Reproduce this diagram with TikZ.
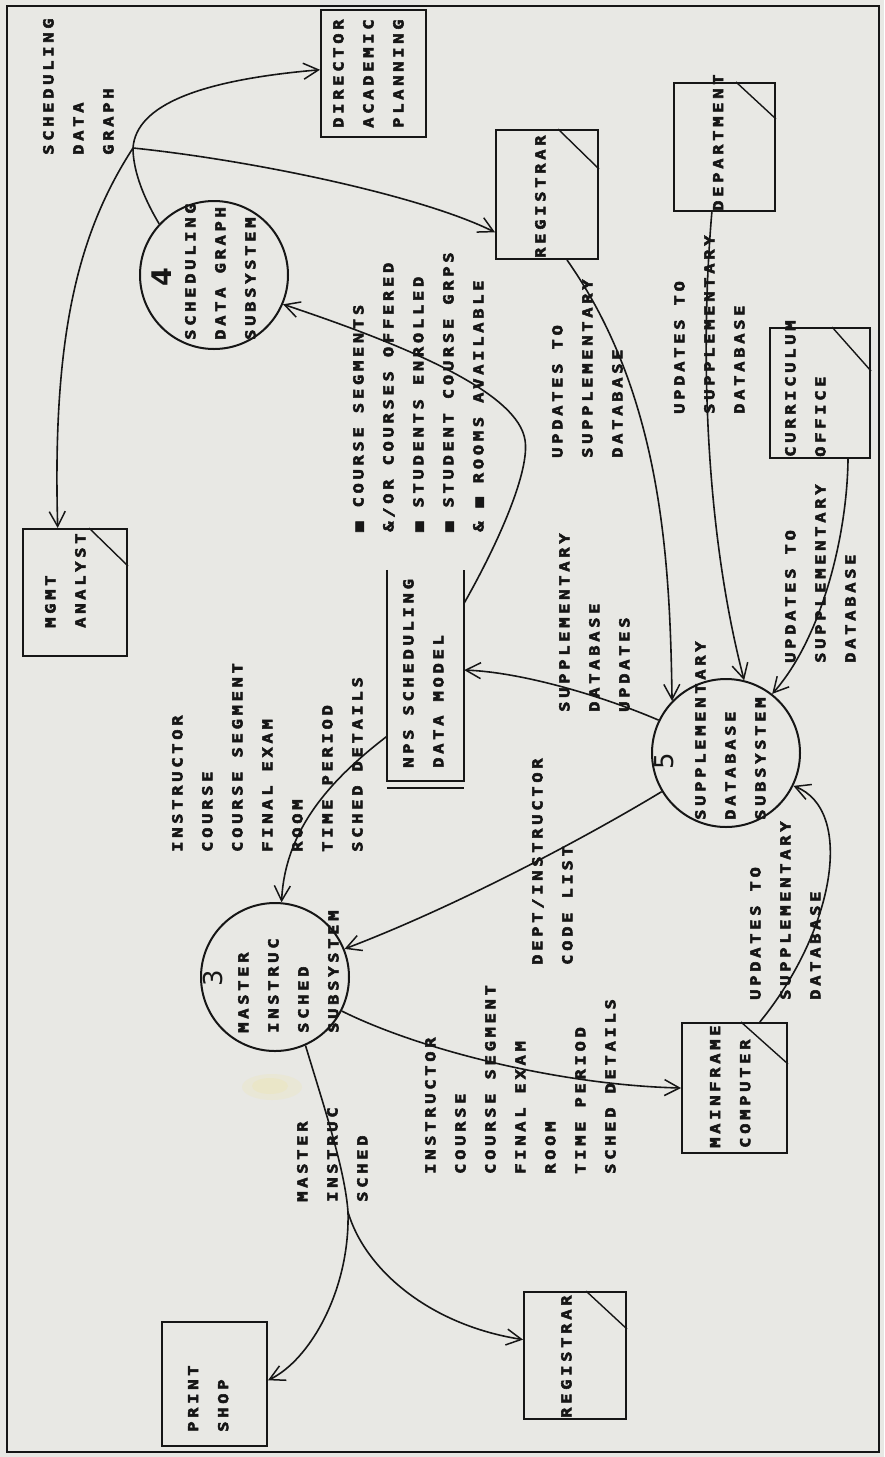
\documentclass[tikz,border=0pt]{standalone}
\usepackage{fontspec}
\usetikzlibrary{arrows.meta}
\newfontfamily\dotfont{DejaVu Sans Mono Bold}[LetterSpace=27, FakeStretch=1.25, FakeBold=4]
\newfontfamily\numfont{DejaVu Sans}
\newfontfamily\numboldfont{DejaVu Sans Bold}
\definecolor{ink}{HTML}{161616}
\definecolor{paper}{HTML}{E8E8E4}
\definecolor{stain}{HTML}{EDE6B0}
\tikzset{
  lbl/.style={rotate=90, anchor=north west, inner sep=0pt, align=left, text=ink,
    font=\dotfont\fontsize{13.7}{30}\selectfont},
  ent/.style={draw=ink, line width=2pt, inner sep=0pt},
  proc/.style={draw=ink, line width=2pt, circle, inner sep=0pt, minimum size=148pt},
  plain/.style={draw=ink, line width=1.6pt},
  flow/.style={plain, -{Straight Barb[length=15pt,width=16pt,line width=1.5pt]}},
  num/.style={rotate=90, inner sep=0pt, text=ink, font=\numfont\fontsize{26}{26}\selectfont},
  corner/.style={draw=ink, line width=1.4pt}
}
\begin{document}
\begin{tikzpicture}[x=1pt,y=1pt]
\useasboundingbox (0,0) rectangle (884,-1457);
\fill[paper] (0,0) rectangle (884,-1457);
% faint yellowish stain on the sheet
\fill[stain, opacity=0.25] (272,-1087) ellipse [x radius=30pt, y radius=13pt];
\fill[stain, opacity=0.35] (270,-1086) ellipse [x radius=18pt, y radius=8pt];
\draw[ink, line width=1.6pt] (7,-6) rectangle (879,-1452);

% external entities
\node[ent, minimum width=105pt, minimum height=127pt] (dir)  at (373.5,-73.5) {};
\node[ent, minimum width=102pt, minimum height=129pt] (reg1) at (547,-194.5) {};
\node[ent, minimum width=101pt, minimum height=128pt] (dept) at (724.5,-147) {};
\node[ent, minimum width=100pt, minimum height=130pt] (cur)  at (820,-393) {};
\node[ent, minimum width=104pt, minimum height=127pt] (mgmt) at (75,-592.5) {};
\node[ent, minimum width=105pt, minimum height=124pt] (ps)   at (214.5,-1384) {};
\node[ent, minimum width=102pt, minimum height=127pt] (reg2) at (575,-1355.5) {};
\node[ent, minimum width=105pt, minimum height=130pt] (mf)   at (734.5,-1088) {};

% duplicate-entity corner marks
\draw[corner] ([xshift=-41pt]reg1.north east) -- ([yshift=-40pt]reg1.north east);
\draw[corner] ([xshift=-40pt]dept.north east) -- ([yshift=-37pt]dept.north east);
\draw[corner] ([xshift=-39pt]cur.north east) -- ([yshift=-44pt]cur.north east);
\draw[corner] ([xshift=-39pt]mgmt.north east) -- ([yshift=-38pt]mgmt.north east);
\draw[corner] ([xshift=-47pt]mf.north east) -- ([yshift=-42pt]mf.north east);
\draw[corner] ([xshift=-41pt]reg2.north east) -- ([yshift=-38pt]reg2.north east);

% processes
\node[proc] (c4) at (214,-275) {};
\node[proc] (c3) at (275,-977) {};
\node[proc] (c5) at (726,-753) {};
\node[num, font=\numboldfont\fontsize{27}{27}\selectfont] (n4) at (162,-277) {4};
\node[num] (n3) at (213,-978) {3};
\node[num] (n5) at (664,-761) {5};

% data store
\node[minimum width=77pt, minimum height=218pt, inner sep=0pt] (st) at (425.5,-679) {};
\draw[ent] (st.north west) -- ([yshift=7pt]st.south west) -- ([yshift=7pt]st.south east) -- (st.north east);
\draw[ent] (st.south west) -- (st.south east);

% entity and process texts
\node[lbl] (tdir)  at (333,-128) {DIRECTOR\\ACADEMIC\\PLANNING};
\node[lbl] (treg1) at (535,-258) {REGISTRAR};
\node[lbl] (tdept) at (713,-211) {DEPARTMENT};
\node[lbl] (tcur)  at (785,-457) {CURRICULUM\\OFFICE};
\node[lbl] (tmgmt) at (45,-628) {MGMT\\ANALYST};
\node[lbl] (tps)   at (188,-1432) {PRINT\\SHOP};
\node[lbl] (treg2) at (561,-1418) {REGISTRAR};
\node[lbl] (tmf)   at (710,-1148) {MAINFRAME\\COMPUTER};
\node[lbl] (tst)   at (403,-768) {NPS SCHEDULING\\DATA MODEL};
\node[lbl] (tc4)   at (185,-340) {SCHEDULING\\DATA GRAPH\\SUBSYSTEM};
\node[lbl] (tc3)   at (238,-1033) {MASTER\\INSTRUC\\SCHED\\SUBSYSTEM};
\node[lbl] (tc5)   at (695,-820) {SUPPLEMENTARY\\DATABASE\\SUBSYSTEM};

% flow labels
\node[lbl] (fsdg)  at (43,-155) {SCHEDULING\\DATA\\GRAPH};
\node[lbl] (frooms) at (353,-532) {■ COURSE SEGMENTS\\\&/OR COURSES OFFERED\\■ STUDENTS ENROLLED\\■ STUDENT COURSE GRPS\\\& ■ ROOMS AVAILABLE};
\node[lbl] (finsa) at (172,-852) {INSTRUCTOR\\COURSE\\COURSE SEGMENT\\FINAL EXAM\\ROOM\\TIME PERIOD\\SCHED DETAILS};
\node[lbl] (finsb) at (425,-1174) {INSTRUCTOR\\COURSE\\COURSE SEGMENT\\FINAL EXAM\\ROOM\\TIME PERIOD\\SCHED DETAILS};
\node[lbl] (fmis)  at (297,-1202) {MASTER\\INSTRUC\\SCHED};
\node[lbl] (fcode) at (532,-965) {DEPT/INSTRUCTOR\\CODE LIST};
\node[lbl] (fumf)  at (750,-1000) {UPDATES TO\\SUPPLEMENTARY\\DATABASE};
\node[lbl] (fsdu)  at (559,-712) {SUPPLEMENTARY\\DATABASE\\UPDATES};
\node[lbl] (fureg) at (552,-458) {UPDATES TO\\SUPPLEMENTARY\\DATABASE};
\node[lbl] (fudep) at (674,-414) {UPDATES TO\\SUPPLEMENTARY\\DATABASE};
\node[lbl] (fucur) at (785,-663) {UPDATES TO\\SUPPLEMENTARY\\DATABASE};

% branch points
\coordinate (J) at (133,-148);
\coordinate (K) at (348,-1212);
\coordinate (bend4) at (525,-440);

% flows
\draw[plain] (c4.137) .. controls (136,-185) and (133,-160) .. (J);
\draw[flow] (J) .. controls (136,-105) and (200,-80) .. (dir.176);
\draw[flow] (J) .. controls (250,-160) and (420,-195) .. (reg1.216);
\draw[flow] (J) .. controls (80,-230) and (52,-330) .. (mgmt.105);
\draw[flow] (st.63) .. controls (500,-540) and (530,-470) .. (bend4) .. controls (518,-395) and (420,-350) .. (c4.-23);
\draw[flow] (st.236) .. controls (330,-780) and (285,-830) .. (c3.85);
\draw[flow] (c5.211) .. controls (590,-835) and (460,-905) .. (c3.22);
\draw[flow] (c3.-27) .. controls (420,-1050) and (560,-1085) .. (mf.west);
\draw[plain] (c3.-66) .. controls (325,-1110) and (345,-1170) .. (K);
\draw[flow] (K) .. controls (350,-1290) and (310,-1360) .. (ps.4);
\draw[flow] (K) .. controls (365,-1270) and (430,-1325) .. (reg2.163);
\draw[flow] (c5.154) .. controls (600,-695) and (520,-672) .. (st.13);
\draw[flow] (reg1.-73) .. controls (662,-395) and (670,-560) .. (c5.136);
\draw[flow] (dept.-101) .. controls (700,-350) and (705,-530) .. (c5.76);
\draw[flow] (cur.-67) .. controls (847,-540) and (820,-640) .. (c5.52);
\draw[flow] (mf.69) .. controls (835,-930) and (855,-810) .. (c5.-26);
\end{tikzpicture}
\end{document}
